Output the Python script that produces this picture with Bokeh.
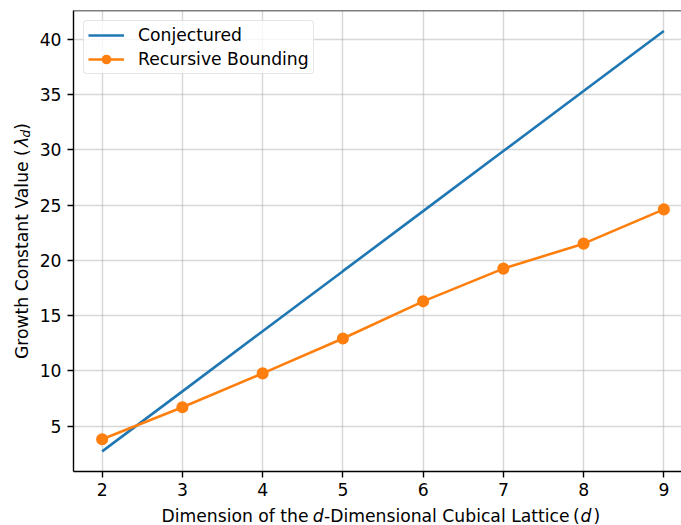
import math
from bokeh.plotting import figure
from bokeh.layouts import row, column
from bokeh.models import Range1d, Span, Label, Legend, LegendItem, FixedTicker
from bokeh.embed import file_html
from bokeh.resources import INLINE

# ---- data ----
dims = [2, 3, 4, 5, 6, 7, 8, 9]
conjectured = [2.72, 8.15, 13.59, 19.03, 24.46, 29.90, 35.34, 40.77]
recursive = [3.82, 6.72, 9.78, 12.94, 16.30, 19.26, 21.52, 24.62]
x_ticks = [2, 3, 4, 5, 6, 7, 8, 9]
y_ticks = [5, 10, 15, 20, 25, 30, 35, 40]

FONT = "DejaVu Sans"
FS = "17.2px"

X0, X1 = 1.643, 9.22
Y0, Y1 = 0.90, 42.62

W, H = 681, 525
LEFT_W = 36          # width of the y-label strip
MAIN_H = 504         # height of the main figure
FRAME_L, FRAME_T, FRAME_B = 72, 10, 471

# ---------------- main figure ----------------
p = figure(width=W - LEFT_W, height=MAIN_H, output_backend="svg", toolbar_location=None,
           x_range=Range1d(X0, X1), y_range=Range1d(Y0, Y1),
           min_border_left=FRAME_L - LEFT_W, min_border_right=0,
           min_border_top=FRAME_T, min_border_bottom=MAIN_H - FRAME_B,
           frame_align=False)
p.outline_line_color = None

p.xaxis.ticker = FixedTicker(ticks=x_ticks)
p.yaxis.ticker = FixedTicker(ticks=y_ticks)
for ax in (p.xaxis, p.yaxis):
    ax.axis_line_color = "black"
    ax.axis_line_width = 1.4
    ax.major_tick_line_color = "black"
    ax.major_tick_line_width = 1.4
    ax.major_tick_out = 6
    ax.major_tick_in = 0
    ax.minor_tick_line_color = None
    ax.major_label_text_font = FONT
    ax.major_label_text_font_size = FS
    ax.major_label_text_color = "black"
p.xaxis.major_label_standoff = 5
p.yaxis.major_label_standoff = 6

p.grid.grid_line_color = "#b0b0b0"
p.grid.grid_line_alpha = 0.5
p.grid.grid_line_width = 1.4

p.add_layout(Span(location=Y1, dimension="width", line_color="black", line_width=1.4))

r_conj = p.line(dims, conjectured, line_color="#1f77b4", line_width=2.6)
r_rec_line = p.line(dims, recursive, line_color="#ff7f0e", line_width=2.6)
r_rec_pts = p.scatter(dims, recursive, size=10.4, fill_color="#ff7f0e",
                      line_color="#ff7f0e", line_width=1.7)

legend = Legend(items=[LegendItem(label="Conjectured", renderers=[r_conj]),
                       LegendItem(label="Recursive Bounding", renderers=[r_rec_line, r_rec_pts])],
                location="top_left")
legend.margin = 10
legend.padding = 4
legend.spacing = 4
legend.glyph_width = 36
legend.glyph_height = 20
legend.label_height = 20
legend.label_standoff = 14
legend.label_text_font = FONT
legend.label_text_font_size = FS
legend.label_text_color = "black"
legend.border_line_color = "#cccccc"
legend.border_line_width = 1
legend.background_fill_alpha = 0.8
legend.border_radius = 4
p.add_layout(legend)

# ---------------- axis-title strips (coordinates = page pixels) ----------------
def strip(x_start, x_end, y_top, y_bottom):
    f = figure(width=x_end - x_start, height=y_bottom - y_top, output_backend="svg",
               toolbar_location=None, x_axis_type=None, y_axis_type=None,
               x_range=Range1d(x_start, x_end), y_range=Range1d(y_bottom, y_top),
               min_border=0, frame_align=False)
    f.outline_line_color = None
    f.grid.visible = False
    return f

def add_label(f, text, px, py, italic=False, size=FS, angle=0.0):
    f.add_layout(Label(x=px, y=py, text=text, angle=angle,
                       text_font=FONT, text_font_size=size,
                       text_font_style="italic" if italic else "normal",
                       text_align="left", text_baseline="alphabetic",
                       text_color="black"))

xs = strip(LEFT_W, W, MAIN_H, H)
xb = 515
add_label(xs, "Dimension of the ", 161, xb)
add_label(xs, "d", 312.3, xb, italic=True)
add_label(xs, "-Dimensional Cubical Lattice ", 323.5, xb)
add_label(xs, "(", 572.5, xb)
add_label(xs, "d", 580.0, xb, italic=True)
add_label(xs, ")", 593.0, xb)

ys = strip(0, LEFT_W, 0, H)
yb = 21.5
a = math.pi / 2
add_label(ys, "Growth Constant Value (", yb, 358.5, angle=a)
add_label(ys, "λ", yb, 146.5, italic=True, angle=a)
add_label(ys, "d", yb + 3.5, 137.0, italic=True, size="12px", angle=a)
add_label(ys, ")", yb, 129.3, angle=a)

layout = row(ys, column(p, xs, spacing=0), spacing=0)

open("out.html", "w").write(file_html(layout, INLINE))
